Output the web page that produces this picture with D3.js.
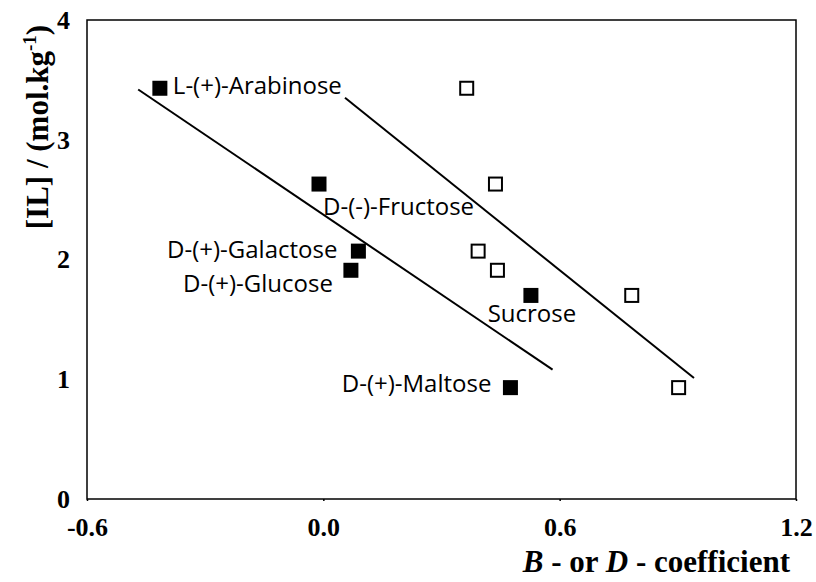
<!DOCTYPE html>
<html>
<head>
<meta charset="utf-8">
<script src="https://cdn.jsdelivr.net/npm/d3@7"></script>
<style>
  html, body { margin: 0; padding: 0; background: #fff; }
  svg { display: block; }
</style>
</head>
<body>
<svg id="chart" width="816" height="582"></svg>
<script>
// Sugar names, in the order the points are listed
const sugars = ["L-(+)-Arabinose", "D-(-)-Fructose", "D-(+)-Galactose", "D-(+)-Glucose", "Sucrose", "D-(+)-Maltose"];
// [IL] at the phase boundary, mol·kg⁻¹
const ilConc = [3.43, 2.63, 2.07, 1.91, 1.70, 0.93];
// Viscosity B-coefficients (filled squares)
const bCoef = [-0.415, -0.011, 0.089, 0.070, 0.527, 0.475];
// Dehydration D-coefficients (open squares)
const dCoef = [0.364, 0.437, 0.393, 0.442, 0.783, 0.902];
// Linear trend lines: [x, y] end points
const bTrend = [[-0.470, 3.42], [0.582, 1.08]];
const dTrend = [[0.055, 3.35], [0.941, 1.01]];
// Axis ticks
const xTicks = [-0.6, 0.0, 0.6, 1.2];
const yTicks = [0, 1, 2, 3, 4];

// Label placement around each filled point (pixels)
const labelPlace = {
  "L-(+)-Arabinose": { anchor: "start",  dx: 13,  dy: 6 },
  "D-(-)-Fructose":  { anchor: "start",  dx: 4,   dy: 31 },
  "D-(+)-Galactose": { anchor: "end",    dx: -21, dy: 7 },
  "D-(+)-Glucose":   { anchor: "end",    dx: -18, dy: 22 },
  "Sucrose":         { anchor: "middle", dx: 1,   dy: 27 },
  "D-(+)-Maltose":   { anchor: "end",    dx: -19, dy: 4 }
};

const svg = d3.select("#chart");
const plot = { left: 87, top: 20, right: 796, bottom: 499 };

const x = d3.scaleLinear().domain([-0.6, 1.2]).range([plot.left, plot.right]);
const y = d3.scaleLinear().domain([0, 4]).range([plot.bottom, plot.top]);

const tickFont = "'Liberation Serif', 'DejaVu Serif', serif";
const labelFont = "'Open Sans', 'Noto Sans', sans-serif";

// Plot frame
svg.append("rect")
  .attr("x", plot.left).attr("y", plot.top)
  .attr("width", plot.right - plot.left).attr("height", plot.bottom - plot.top)
  .attr("fill", "none").attr("stroke", "#000").attr("stroke-width", 1.5);

// X axis (plain hyphen for negative values)
const fmt1 = d => d3.format(".1f")(d).replace("\u2212", "-");
const xAxis = svg.append("g")
  .attr("transform", `translate(0,${plot.bottom})`)
  .call(d3.axisBottom(x).tickValues(xTicks).tickFormat(fmt1).tickSize(2).tickPadding(17));
xAxis.select(".domain").remove();
xAxis.selectAll("text")
  .attr("font-family", tickFont).attr("font-weight", "bold").attr("font-size", 26).attr("fill", "#000");
xAxis.selectAll("line").attr("stroke", "#000").attr("stroke-width", 1.5);

// Y axis
const yAxis = svg.append("g")
  .attr("transform", `translate(${plot.left},0)`)
  .call(d3.axisLeft(y).tickValues(yTicks).tickFormat(d3.format("d")).tickSize(0).tickPadding(17));
yAxis.select(".domain").remove();
yAxis.selectAll("text")
  .attr("font-family", tickFont).attr("font-weight", "bold").attr("font-size", 26).attr("fill", "#000");

// Trend lines
const line = d3.line().x(d => x(d[0])).y(d => y(d[1]));
[bTrend, dTrend].forEach(t => {
  svg.append("path").attr("d", line(t))
    .attr("fill", "none").attr("stroke", "#000").attr("stroke-width", 2);
});

const rows = sugars.map((name, i) => ({ name, il: ilConc[i], b: bCoef[i], d: dCoef[i] }));
const sq = 15;

// D-coefficient points (open squares)
svg.append("g").selectAll("rect").data(rows).join("rect")
  .attr("x", d => x(d.d) - (sq - 2) / 2).attr("y", d => y(d.il) - (sq - 2) / 2)
  .attr("width", sq - 2).attr("height", sq - 2)
  .attr("fill", "#fff").attr("stroke", "#000").attr("stroke-width", 2);

// B-coefficient points (filled squares)
svg.append("g").selectAll("rect").data(rows).join("rect")
  .attr("x", d => x(d.b) - sq / 2).attr("y", d => y(d.il) - sq / 2)
  .attr("width", sq).attr("height", sq)
  .attr("fill", "#000");

// Sugar labels
svg.append("g").selectAll("text").data(rows).join("text")
  .attr("x", d => x(d.b) + labelPlace[d.name].dx)
  .attr("y", d => y(d.il) + labelPlace[d.name].dy)
  .attr("text-anchor", d => labelPlace[d.name].anchor)
  .attr("font-family", labelFont).attr("font-size", 24).attr("fill", "#000")
  .text(d => d.name);

// X axis title
const xt = svg.append("text")
  .attr("x", 790).attr("y", 572).attr("text-anchor", "end")
  .attr("font-family", tickFont).attr("font-weight", "bold").attr("font-size", 31).attr("fill", "#000");
xt.append("tspan").attr("font-style", "italic").text("B");
xt.append("tspan").text(" - or ");
xt.append("tspan").attr("font-style", "italic").text("D");
xt.append("tspan").text(" - coefficient");

// Y axis title
const yt = svg.append("text")
  .attr("transform", "translate(48,127) rotate(-90)")
  .attr("text-anchor", "middle")
  .attr("font-family", tickFont).attr("font-weight", "bold").attr("font-size", 31).attr("fill", "#000");
yt.append("tspan").text("[IL] / (mol.kg");
yt.append("tspan").attr("font-size", 19).attr("dy", -12).text("-1");
yt.append("tspan").attr("dy", 12).text(")");
</script>
</body>
</html>
